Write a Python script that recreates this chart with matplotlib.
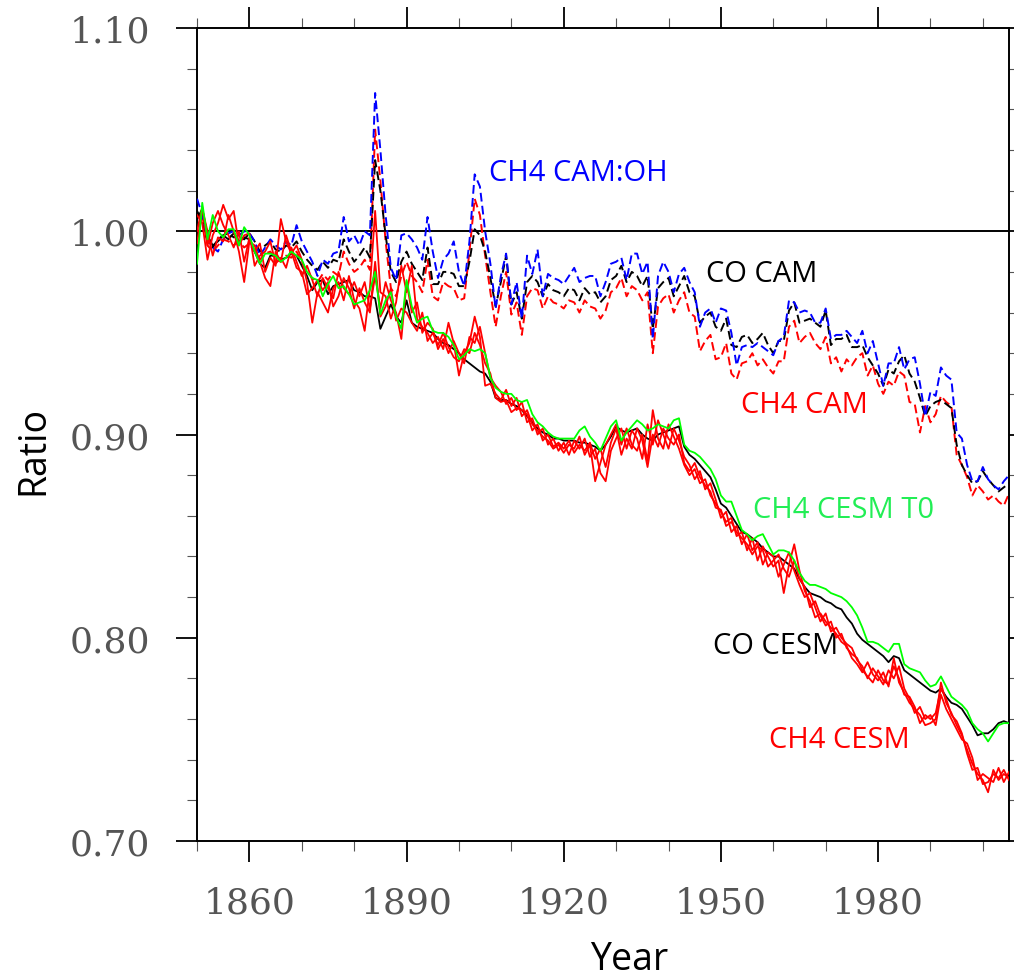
import numpy as np
import matplotlib
matplotlib.use("Agg")
import matplotlib.pyplot as plt
from matplotlib.ticker import MultipleLocator

years = np.arange(1850, 2006)

# CO tracer, CAM (dashed black)
co_cam = [
    1.010, 1.005, 0.995, 0.992, 0.996, 0.998, 0.999, 0.997, 0.998, 0.996,
    0.999, 0.995, 0.990, 0.993, 0.995, 0.991, 0.990, 0.993, 0.992, 0.995,
    0.990, 0.986, 0.983, 0.981, 0.985, 0.982, 0.986, 0.985, 0.996, 0.990,
    0.985, 0.988, 0.992, 0.987, 1.035, 1.020, 0.998, 0.980, 0.975, 0.985,
    0.990, 0.984, 0.980, 0.976, 0.992, 0.974, 0.974, 0.980, 0.980, 0.979,
    0.973, 0.973, 0.985, 1.001, 0.998, 0.990, 0.977, 0.963, 0.975, 0.988,
    0.964, 0.970, 0.957, 0.975, 0.978, 0.975, 0.968, 0.974, 0.971, 0.970,
    0.968, 0.972, 0.971, 0.966, 0.972, 0.969, 0.970, 0.965, 0.968, 0.976,
    0.978, 0.983, 0.975, 0.980, 0.978, 0.973, 0.978, 0.952, 0.972, 0.975,
    0.977, 0.968, 0.973, 0.978, 0.970, 0.968, 0.955, 0.958, 0.960, 0.953,
    0.951, 0.957, 0.944, 0.943, 0.948, 0.949, 0.945, 0.947, 0.950, 0.944,
    0.940, 0.946, 0.946, 0.961, 0.965, 0.955, 0.956, 0.957, 0.955, 0.953,
    0.961, 0.944, 0.947, 0.947, 0.949, 0.943, 0.943, 0.944, 0.938, 0.934,
    0.930, 0.924, 0.932, 0.930, 0.936, 0.939, 0.930, 0.926, 0.918, 0.909,
    0.914, 0.916, 0.917, 0.915, 0.913, 0.895, 0.885, 0.880, 0.876, 0.877,
    0.882, 0.878, 0.875, 0.872, 0.874, 0.876,
]

# CH4, CAM (dashed red)
ch4_cam = [
    0.996, 1.008, 0.993, 0.990, 0.993, 0.996, 0.995, 0.993, 0.995, 0.992,
    0.994, 0.990, 0.986, 0.989, 0.990, 0.986, 0.985, 0.988, 0.987, 0.990,
    0.985, 0.980, 0.977, 0.975, 0.979, 0.976, 0.980, 0.978, 0.990, 0.984,
    0.980, 0.982, 0.986, 0.981, 1.050, 1.025, 0.995, 0.972, 0.968, 0.978,
    0.985, 0.978, 0.975, 0.970, 0.986, 0.968, 0.966, 0.975, 0.973, 0.972,
    0.966, 0.967, 0.990, 1.016, 1.008, 0.988, 0.970, 0.953, 0.968, 0.980,
    0.959, 0.965, 0.949, 0.968, 0.972, 0.971, 0.962, 0.968, 0.965, 0.964,
    0.962, 0.966, 0.965, 0.960, 0.966, 0.963, 0.962, 0.957, 0.961, 0.970,
    0.972, 0.977, 0.968, 0.973, 0.971, 0.966, 0.970, 0.940, 0.963, 0.967,
    0.969, 0.960, 0.966, 0.970, 0.960, 0.958, 0.941, 0.946, 0.949, 0.937,
    0.938, 0.945, 0.930, 0.927, 0.935, 0.936, 0.940, 0.934, 0.937, 0.933,
    0.930, 0.936, 0.936, 0.953, 0.956, 0.945, 0.948, 0.950, 0.945, 0.942,
    0.948, 0.935, 0.938, 0.931, 0.937, 0.934, 0.938, 0.940, 0.929, 0.934,
    0.925, 0.920, 0.926, 0.924, 0.931, 0.929, 0.916, 0.915, 0.901, 0.914,
    0.906, 0.910, 0.919, 0.916, 0.914, 0.890, 0.885, 0.879, 0.870, 0.875,
    0.872, 0.868, 0.870, 0.867, 0.865, 0.871,
]

# CH4 with CAM OH (dashed blue)
ch4_cam_oh = [
    1.016, 1.008, 0.996, 0.992, 0.990, 0.996, 0.999, 1.000, 0.998, 1.000,
    0.999, 0.995, 0.988, 0.992, 0.996, 0.993, 0.991, 0.995, 0.993, 1.003,
    0.995, 0.990, 0.985, 0.978, 0.986, 0.984, 0.989, 0.990, 1.007, 0.995,
    0.998, 0.993, 1.000, 0.998, 1.068, 1.040, 1.008, 0.982, 0.976, 0.998,
    0.999, 0.996, 0.992, 0.986, 1.007, 0.990, 0.977, 0.986, 0.989, 0.995,
    0.980, 0.973, 0.995, 1.028, 1.022, 1.000, 0.984, 0.962, 0.978, 0.989,
    0.964, 0.975, 0.957, 0.988, 0.979, 0.991, 0.968, 0.979, 0.977, 0.976,
    0.974, 0.978, 0.982, 0.975, 0.977, 0.978, 0.978, 0.968, 0.975, 0.984,
    0.985, 0.987, 0.976, 0.989, 0.989, 0.979, 0.985, 0.947, 0.978, 0.985,
    0.980, 0.970, 0.979, 0.982, 0.975, 0.970, 0.953, 0.960, 0.962, 0.955,
    0.962, 0.961, 0.950, 0.934, 0.943, 0.944, 0.943, 0.945, 0.943, 0.941,
    0.939, 0.946, 0.948, 0.966, 0.965, 0.960, 0.961, 0.960, 0.955, 0.955,
    0.962, 0.947, 0.949, 0.949, 0.951, 0.948, 0.945, 0.951, 0.940, 0.946,
    0.935, 0.924, 0.935, 0.935, 0.943, 0.932, 0.937, 0.938, 0.925, 0.909,
    0.921, 0.919, 0.933, 0.929, 0.927, 0.901, 0.898, 0.885, 0.877, 0.877,
    0.884, 0.878, 0.875, 0.873, 0.877, 0.880,
]

# CO tracer, CESM (solid black)
co_cesm = [
    1.006, 1.011, 0.998, 0.993, 0.995, 0.998, 0.996, 0.999, 0.995, 0.997,
    0.996, 0.990, 0.984, 0.982, 0.988, 0.988, 0.986, 0.987, 0.989, 0.988,
    0.983, 0.978, 0.971, 0.975, 0.976, 0.969, 0.973, 0.974, 0.975, 0.976,
    0.971, 0.970, 0.968, 0.968, 0.967, 0.952, 0.958, 0.964, 0.958, 0.955,
    0.966, 0.955, 0.953, 0.952, 0.951, 0.950, 0.947, 0.945, 0.944, 0.942,
    0.940, 0.937, 0.935, 0.933, 0.931, 0.930, 0.926, 0.918, 0.917, 0.917,
    0.915, 0.914, 0.912, 0.909, 0.906, 0.903, 0.901, 0.900, 0.898, 0.898,
    0.897, 0.897, 0.897, 0.896, 0.896, 0.895, 0.894, 0.892, 0.895, 0.899,
    0.904, 0.902, 0.901, 0.902, 0.903, 0.900, 0.898, 0.897, 0.900, 0.901,
    0.902, 0.903, 0.904, 0.894, 0.890, 0.888, 0.885, 0.882, 0.879, 0.873,
    0.866, 0.864, 0.860, 0.856, 0.852, 0.851, 0.849, 0.847, 0.844, 0.842,
    0.840, 0.840, 0.838, 0.836, 0.834, 0.829, 0.825, 0.822, 0.821, 0.820,
    0.818, 0.817, 0.815, 0.814, 0.810, 0.807, 0.802, 0.799, 0.797, 0.795,
    0.793, 0.791, 0.788, 0.791, 0.790, 0.784, 0.782, 0.780, 0.778, 0.776,
    0.774, 0.773, 0.775, 0.771, 0.768, 0.767, 0.765, 0.761, 0.757, 0.752,
    0.753, 0.753, 0.755, 0.758, 0.759, 0.758,
]

# CH4, CESM with T0 (solid green)
ch4_cesm_t0 = [
    0.984, 1.014, 0.996, 1.008, 1.000, 0.997, 1.001, 1.001, 0.993, 1.002,
    0.998, 0.990, 0.984, 0.989, 0.989, 0.988, 0.985, 0.987, 0.990, 0.988,
    0.986, 0.980, 0.977, 0.976, 0.968, 0.974, 0.978, 0.972, 0.973, 0.969,
    0.964, 0.965, 0.966, 0.971, 0.980, 0.959, 0.966, 0.970, 0.958, 0.952,
    0.976, 0.963, 0.955, 0.957, 0.958, 0.951, 0.950, 0.950, 0.948, 0.944,
    0.937, 0.939, 0.942, 0.941, 0.942, 0.940, 0.928, 0.923, 0.921, 0.920,
    0.920, 0.917, 0.916, 0.917, 0.910, 0.906, 0.904, 0.901, 0.899, 0.898,
    0.898, 0.898, 0.898, 0.902, 0.904, 0.899, 0.896, 0.892, 0.898, 0.904,
    0.907, 0.897, 0.901, 0.904, 0.907, 0.905, 0.902, 0.903, 0.905, 0.904,
    0.903, 0.907, 0.908, 0.895, 0.892, 0.891, 0.889, 0.886, 0.883, 0.878,
    0.870, 0.867, 0.867, 0.860, 0.853, 0.851, 0.848, 0.850, 0.851, 0.846,
    0.841, 0.843, 0.843, 0.842, 0.838, 0.832, 0.828, 0.826, 0.826, 0.825,
    0.824, 0.822, 0.821, 0.820, 0.818, 0.815, 0.811, 0.805, 0.798, 0.798,
    0.797, 0.795, 0.793, 0.797, 0.797, 0.787, 0.785, 0.784, 0.783, 0.779,
    0.776, 0.777, 0.781, 0.776, 0.771, 0.769, 0.767, 0.764, 0.758, 0.755,
    0.753, 0.749, 0.753, 0.757, 0.758, 0.758,
]

# CH4, CESM ensemble members (solid red)
ch4_cesm_1 = [
    1.000, 1.012, 0.993, 1.004, 1.010, 1.003, 0.998, 0.992, 1.000, 0.985,
    0.997, 0.990, 0.994, 0.980, 0.987, 0.983, 1.006, 0.995, 0.989, 0.993,
    0.986, 0.975, 0.955, 0.970, 0.965, 0.960, 0.972, 0.975, 0.966, 0.978,
    0.966, 0.962, 0.951, 0.972, 1.010, 0.970, 0.968, 0.957, 0.965, 0.983,
    0.970, 0.983, 0.957, 0.953, 0.950, 0.945, 0.948, 0.942, 0.955, 0.945,
    0.929, 0.940, 0.945, 0.958, 0.948, 0.924, 0.925, 0.920, 0.917, 0.922,
    0.914, 0.918, 0.909, 0.912, 0.905, 0.902, 0.899, 0.897, 0.893, 0.895,
    0.891, 0.895, 0.893, 0.899, 0.890, 0.895, 0.877, 0.886, 0.895, 0.900,
    0.905, 0.895, 0.903, 0.895, 0.892, 0.900, 0.887, 0.912, 0.898, 0.893,
    0.905, 0.899, 0.893, 0.885, 0.880, 0.883, 0.876, 0.878, 0.870, 0.866,
    0.862, 0.857, 0.859, 0.850, 0.852, 0.843, 0.849, 0.838, 0.845, 0.840,
    0.835, 0.838, 0.822, 0.836, 0.846, 0.833, 0.823, 0.818, 0.810, 0.812,
    0.808, 0.805, 0.802, 0.798, 0.796, 0.790, 0.787, 0.783, 0.788, 0.782,
    0.779, 0.783, 0.776, 0.790, 0.778, 0.773, 0.768, 0.765, 0.762, 0.757,
    0.758, 0.760, 0.778, 0.768, 0.763, 0.757, 0.752, 0.745, 0.738, 0.733,
    0.730, 0.724, 0.735, 0.730, 0.733, 0.731,
]
ch4_cesm_2 = [
    1.008, 1.004, 0.986, 0.998, 1.004, 1.013, 1.006, 1.010, 0.993, 0.998,
    0.999, 0.983, 0.988, 0.990, 0.995, 0.984, 0.987, 0.982, 0.992, 0.985,
    0.978, 0.983, 0.976, 0.968, 0.977, 0.972, 0.967, 0.980, 0.972, 0.969,
    0.975, 0.968, 0.975, 0.962, 0.978, 0.962, 0.975, 0.966, 0.960, 0.947,
    0.975, 0.960, 0.965, 0.950, 0.955, 0.952, 0.942, 0.947, 0.940, 0.946,
    0.940, 0.935, 0.948, 0.945, 0.953, 0.940, 0.928, 0.924, 0.921, 0.915,
    0.918, 0.912, 0.916, 0.906, 0.908, 0.900, 0.903, 0.895, 0.898, 0.892,
    0.896, 0.890, 0.897, 0.893, 0.898, 0.889, 0.893, 0.881, 0.877, 0.892,
    0.898, 0.903, 0.893, 0.902, 0.898, 0.888, 0.905, 0.895, 0.907, 0.900,
    0.893, 0.903, 0.897, 0.889, 0.885, 0.878, 0.882, 0.873, 0.876, 0.868,
    0.859, 0.862, 0.852, 0.855, 0.846, 0.851, 0.843, 0.847, 0.836, 0.842,
    0.840, 0.830, 0.836, 0.842, 0.833, 0.826, 0.820, 0.822, 0.815, 0.808,
    0.812, 0.803, 0.805, 0.800, 0.797, 0.795, 0.789, 0.786, 0.780, 0.785,
    0.781, 0.777, 0.784, 0.780, 0.786, 0.775, 0.770, 0.763, 0.766, 0.760,
    0.762, 0.757, 0.772, 0.765, 0.760, 0.755, 0.750, 0.748, 0.741, 0.730,
    0.733, 0.731, 0.729, 0.736, 0.729, 0.734,
]
ch4_cesm_3 = [
    0.994, 1.011, 1.000, 0.988, 0.997, 0.995, 1.008, 1.000, 0.990, 0.975,
    0.995, 0.993, 0.985, 0.977, 0.973, 0.990, 0.985, 0.998, 0.990, 0.982,
    0.980, 0.969, 0.972, 0.976, 0.971, 0.975, 0.963, 0.968, 0.977, 0.972,
    0.962, 0.972, 0.965, 0.960, 0.985, 0.958, 0.963, 0.972, 0.956, 0.962,
    0.960, 0.955, 0.951, 0.960, 0.946, 0.950, 0.944, 0.950, 0.943, 0.938,
    0.936, 0.942, 0.940, 0.950, 0.944, 0.935, 0.930, 0.918, 0.916, 0.917,
    0.911, 0.913, 0.912, 0.910, 0.902, 0.905, 0.897, 0.900, 0.894, 0.896,
    0.893, 0.897, 0.891, 0.895, 0.892, 0.896, 0.888, 0.893, 0.884, 0.896,
    0.903, 0.890, 0.898, 0.893, 0.903, 0.897, 0.884, 0.900, 0.894, 0.903,
    0.898, 0.895, 0.900, 0.886, 0.882, 0.886, 0.879, 0.875, 0.872, 0.864,
    0.863, 0.855, 0.857, 0.852, 0.849, 0.846, 0.841, 0.845, 0.843, 0.835,
    0.838, 0.841, 0.834, 0.830, 0.838, 0.829, 0.825, 0.815, 0.818, 0.811,
    0.806, 0.808, 0.800, 0.802, 0.795, 0.792, 0.790, 0.784, 0.781, 0.778,
    0.784, 0.779, 0.777, 0.786, 0.780, 0.772, 0.771, 0.766, 0.758, 0.762,
    0.760, 0.763, 0.775, 0.770, 0.762, 0.759, 0.753, 0.743, 0.735, 0.736,
    0.728, 0.729, 0.733, 0.731, 0.735, 0.730,
]

label_font = "Open Sans"
dash = (4.5, 2.2)

fig = plt.figure(figsize=(10.14, 9.79), dpi=100)
ax = fig.add_axes([0.1943, 0.1399, 0.8008, 0.8305])

ax.axhline(1.0, color="black", lw=1.4, zorder=1)

ax.plot(years, ch4_cam, color="red", lw=1.4, ls=(0, dash), zorder=2)
ax.plot(years, co_cam, color="black", lw=1.4, ls=(0, dash), zorder=3)
ax.plot(years, ch4_cam_oh, color="blue", lw=1.4, ls=(0, dash), zorder=4)

ax.plot(years, co_cesm, color="black", lw=1.3, zorder=5)
for member in (ch4_cesm_1, ch4_cesm_2, ch4_cesm_3):
    ax.plot(years, member, color="red", lw=1.3, zorder=6)
ax.plot(years, ch4_cesm_t0, color="#00ff00", lw=1.3, zorder=7)

# series labels
ax.text(1905.8, 1.029, "CH4 CAM:OH", color="blue", fontsize=21,
        family=label_font, ha="left", va="center")
ax.text(1947.1, 0.979, "CO CAM", color="black", fontsize=21,
        family=label_font, ha="left", va="center")
ax.text(1953.8, 0.915, "CH4 CAM", color="red", fontsize=21,
        family=label_font, ha="left", va="center")
ax.text(1956.2, 0.863, "CH4 CESM T0", color="#22ee55", fontsize=21,
        family=label_font, ha="left", va="center")
ax.text(1948.4, 0.796, "CO CESM", color="black", fontsize=21,
        family=label_font, ha="left", va="center")
ax.text(1959.1, 0.750, "CH4 CESM", color="red", fontsize=21,
        family=label_font, ha="left", va="center")

ax.set_xlim(1850, 2005)
ax.set_ylim(0.70, 1.10)

ax.set_xticks([1860, 1890, 1920, 1950, 1980])
ax.xaxis.set_minor_locator(MultipleLocator(10))
ax.set_yticks([0.70, 0.80, 0.90, 1.00, 1.10])
ax.set_yticklabels(["0.70", "0.80", "0.90", "1.00", "1.10"])
ax.yaxis.set_minor_locator(MultipleLocator(0.02))

ax.tick_params(which="both", direction="out", top=True, right=True,
               colors="black")
ax.tick_params(which="major", length=15, width=1.3)
ax.tick_params(which="minor", length=7, width=0.8, color="#555555")
ax.tick_params(axis="y", which="major", pad=19)
ax.tick_params(axis="x", which="major", pad=17)

for lab in ax.get_xticklabels() + ax.get_yticklabels():
    lab.set_family("DejaVu Serif")
    lab.set_fontsize(26)
    lab.set_color("#555555")

for sp in ax.spines.values():
    sp.set_linewidth(1.4)

ax.set_xlabel("Year", family=label_font, fontsize=27)
ax.set_ylabel("Ratio", family=label_font, fontsize=27)
ax.xaxis.set_label_coords(0.532, -0.122)
ax.yaxis.set_label_coords(-0.178, 0.482)

fig.savefig("out.png", dpi=100)
